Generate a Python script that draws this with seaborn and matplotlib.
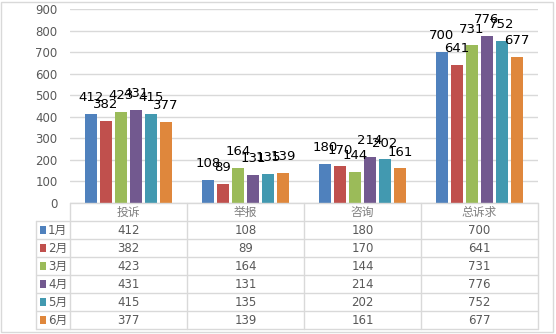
import matplotlib
matplotlib.use("Agg")
import matplotlib.pyplot as plt
import seaborn as sns
import pandas as pd
from matplotlib.patches import Rectangle

sns.set_theme(style="white")
plt.rcParams["font.family"] = ["DejaVu Sans", "Noto Sans CJK SC"]

categories = ["投诉", "举报", "咨询", "总诉求"]
months = ["1月", "2月", "3月", "4月", "5月", "6月"]
values = {
    "1月": [412, 108, 180, 700],
    "2月": [382, 89, 170, 641],
    "3月": [423, 164, 144, 731],
    "4月": [431, 131, 214, 776],
    "5月": [415, 135, 202, 752],
    "6月": [377, 139, 161, 677],
}
colors = ["#4F81BD", "#C0504D", "#9BBB59", "#72598F", "#4299B0", "#DF873C"]
y_ticks = [0, 100, 200, 300, 400, 500, 600, 700, 800, 900]

rows = []
for m in months:
    for c, v in zip(categories, values[m]):
        rows.append({"类别": c, "月份": m, "数量": v})
df = pd.DataFrame(rows)

W, H = 556, 334
fig = plt.figure(figsize=(W / 100, H / 100), dpi=100)

def px_axes(x0, y0, x1, y1):
    return fig.add_axes([x0 / W, 1 - y1 / H, (x1 - x0) / W, (y1 - y0) / H])

grid_c = "#D9D9D9"
text_c = "#595959"

# bar chart
ax = px_axes(70, 9, 538, 203)
sns.barplot(data=df, x="类别", y="数量", hue="月份", order=categories,
            hue_order=months, palette=colors, width=0.77, gap=0.2,
            saturation=1, legend=False, linewidth=0, ax=ax)
ax.set_xlim(-0.5, 3.5)
ax.set_ylim(0, 900)
ax.set_yticks(y_ticks)
ax.yaxis.grid(True, color=grid_c, linewidth=1)
ax.set_axisbelow(True)
ax.set_xticks([])
ax.set_xlabel("")
ax.set_ylabel("")
ax.tick_params(axis="y", length=0, labelsize=8.5, labelcolor=text_c, pad=9)
for s in ax.spines.values():
    s.set_visible(False)
for cont in ax.containers:
    ax.bar_label(cont, padding=7, fontsize=9.5, color="black")

# data table beneath the bars
tax = px_axes(70, 203, 538, 329)
tax.set_xlim(-0.5, 3.5)
tax.set_ylim(7, 0)
tax.axis("off")
lw = 1
left = -0.5 - 34 / 117
tax.plot([-0.5, 3.5], [0, 0], color=grid_c, lw=lw, clip_on=False)
for r in range(1, 8):
    tax.plot([left, 3.5], [r, r], color=grid_c, lw=lw, clip_on=False)
for xb in [-0.5, 0.5, 1.5, 2.5, 3.5]:
    tax.plot([xb, xb], [0, 7], color=grid_c, lw=lw, clip_on=False)
tax.plot([left, left], [1, 7], color=grid_c, lw=lw, clip_on=False)

for i, c in enumerate(categories):
    tax.text(i, 0.5, c, ha="center", va="center", fontsize=8.5,
             color="#7F7F7F", clip_on=False)
for r, m in enumerate(months):
    yc = r + 1.5
    for i, v in enumerate(values[m]):
        tax.text(i, yc, str(v), ha="center", va="center", fontsize=8.5,
                 color=text_c, clip_on=False)
    sq_x = left + 4 / 117
    tax.add_patch(Rectangle((sq_x, yc - 0.2), 6.5 / 117, 0.4,
                            facecolor=colors[r], edgecolor="none",
                            clip_on=False))
    tax.text(sq_x + 8 / 117, yc, m, ha="left", va="center", fontsize=8.5,
             color=text_c, clip_on=False)

# outer chart frame
fig.patches.append(Rectangle((1 / W, 2 / H), (W - 4) / W, (H - 4) / H,
                             transform=fig.transFigure, fill=False,
                             edgecolor=grid_c, linewidth=1))

fig.savefig("out.png", dpi=100)
